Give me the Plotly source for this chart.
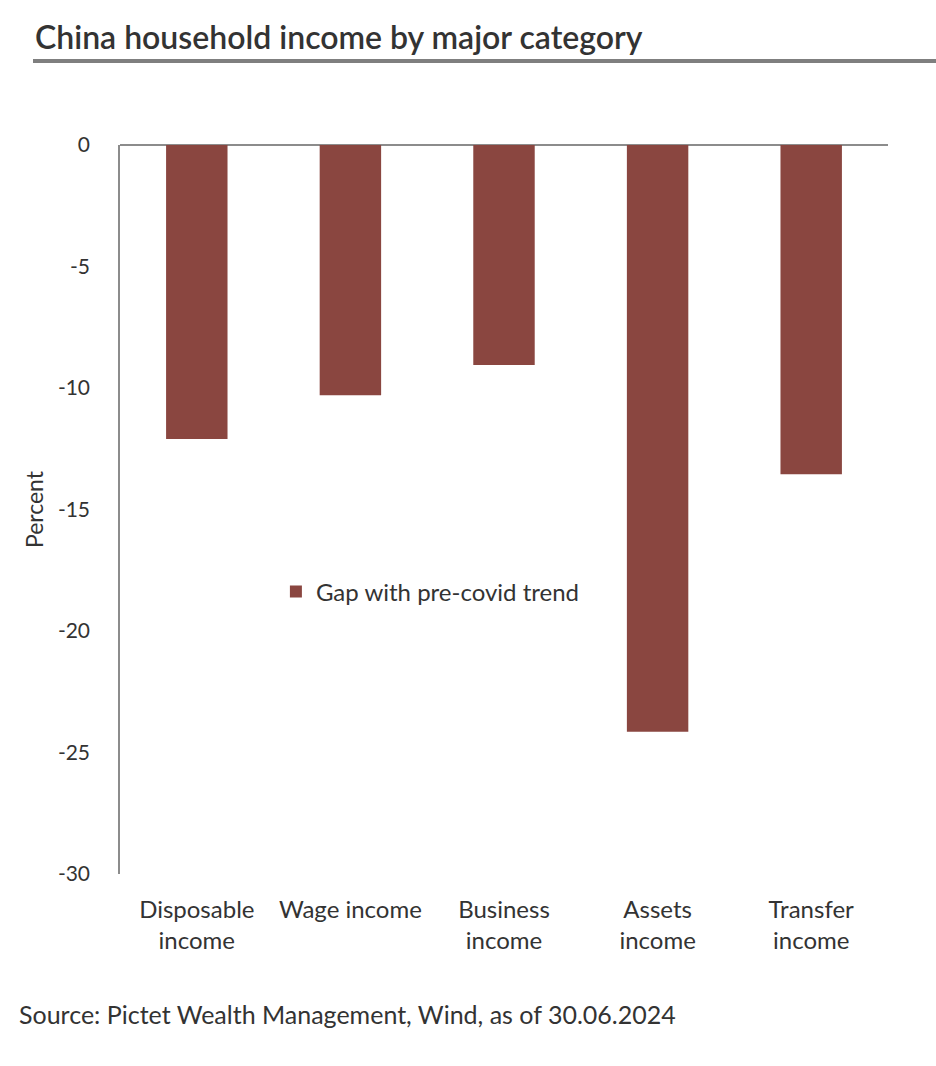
import plotly.graph_objects as go

categories = ["Disposable<br>income", "Wage income", "Business<br>income", "Assets<br>income", "Transfer<br>income"]
gap_values = [-12.1, -10.3, -9.05, -24.15, -13.55]
series_name = "Gap with pre-covid trend"
y_ticks = [0, -5, -10, -15, -20, -25, -30]
y_tick_labels = ["0", "-5", "-10", "-15", "-20", "-25", "-30"]

FONT = "Lato"
TXT = "#333333"
BAR = "#8A4640"

fig = go.Figure()
fig.add_trace(go.Bar(
    x=categories, y=gap_values, name=series_name,
    marker=dict(color=BAR, line=dict(width=0)),
    width=0.4, showlegend=True,
))

fig.update_layout(
    width=936, height=1066,
    margin=dict(l=120, r=48, t=145, b=192),
    paper_bgcolor="white", plot_bgcolor="white",
    font=dict(family=FONT, color=TXT, size=20),
    showlegend=True,
    legend=dict(x=0.203, y=0.387, xanchor="left", yanchor="middle",
                font=dict(size=24, color=TXT), bgcolor="rgba(0,0,0,0)",
                itemwidth=30),
    bargap=0.6,
    xaxis=dict(showline=False, showgrid=False, ticks="", zeroline=False,
               tickfont=dict(size=24, color=TXT), ticklabelstandoff=19),
    yaxis=dict(range=[-30, 0], tickvals=y_ticks, ticktext=y_tick_labels, showgrid=False,
               showline=True, linecolor="#8c8c8c", linewidth=1.5,
               zeroline=True, zerolinecolor="#8c8c8c", zerolinewidth=1.5,
               ticks="", ticklabelstandoff=24, tickfont=dict(size=21, color=TXT),
               title=dict(text="Percent", font=dict(size=23, color=TXT), standoff=8)),
)

fig.add_annotation(text="China household income by major category", xref="paper", yref="paper",
                   x=-(120-33)/768, y=1 + (145-36)/729, xanchor="left", yanchor="middle",
                   showarrow=False, font=dict(size=32, color=TXT, family=FONT, weight=600))
fig.add_shape(type="line", xref="paper", yref="paper", x0=-(120-33)/768, x1=(936-120)/768,
              y0=1 + (145-61)/729, y1=1 + (145-61)/729, line=dict(color="#7f7f7f", width=4))
fig.add_annotation(text="Source: Pictet Wealth Management, Wind, as of 30.06.2024", xref="paper", yref="paper",
                   x=-(120-17)/768, y=-(1014-874)/729, xanchor="left", yanchor="middle",
                   showarrow=False, font=dict(size=25, color=TXT, family=FONT))

fig.write_html("out.html")
